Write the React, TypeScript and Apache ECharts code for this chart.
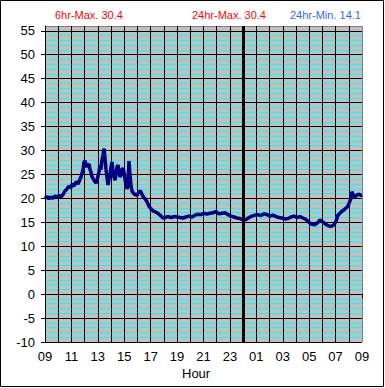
import React, { useEffect, useRef } from "react";
import * as echarts from "echarts";

// hours elapsed since 09:00 (day 1) and temperature readings
const HOURS = [
  0, 0.15, 0.3, 0.45, 0.61, 0.76, 0.91, 1.06, 1.21, 1.36, 1.51, 1.67, 1.82, 1.97, 2.04, 2.2, 2.35, 2.5, 2.65, 2.73,
  2.88, 2.95, 3.03, 3.1, 3.18, 3.26, 3.33, 3.41, 3.48, 3.56, 3.71, 3.86, 3.94, 4.09, 4.16, 4.24, 4.31, 4.39, 4.47, 4.54,
  4.62, 4.69, 4.77, 4.84, 4.92, 5.0, 5.07, 5.15, 5.22, 5.3, 5.37, 5.45, 5.53, 5.6, 5.68, 5.75, 5.83, 5.9, 5.98, 6.06,
  6.13, 6.21, 6.28, 6.36, 6.43, 6.51, 6.59, 6.66, 6.81, 6.96, 7.04, 7.19, 7.27, 7.42, 7.57, 7.72, 7.87, 8.02, 8.18, 8.33,
  8.48, 8.63, 8.78, 8.93, 9.08, 9.31, 9.54, 9.77, 9.99, 10.22, 10.45, 10.67, 10.9, 11.13, 11.36, 11.58, 11.81, 12.04, 12.26, 12.49,
  12.72, 12.94, 13.17, 13.4, 13.63, 13.85, 14.08, 14.31, 14.53, 14.76, 14.99, 15.22, 15.44, 15.67, 15.9, 16.12, 16.35, 16.58, 16.81, 17.03,
  17.26, 17.49, 17.71, 17.94, 18.17, 18.4, 18.62, 18.85, 19.08, 19.3, 19.53, 19.76, 19.98, 20.21, 20.44, 20.67, 20.82, 20.97, 21.2, 21.42,
  21.65, 21.88, 22.03, 22.18, 22.33, 22.48, 22.63, 22.79, 22.94, 23.09, 23.16, 23.24, 23.32, 23.47, 23.62, 23.77, 23.92, 24.0,
];
const TEMPS = [
  20.0, 20.4, 19.9, 20.3, 20.0, 20.5, 20.2, 20.6, 20.3, 20.8, 21.5, 22.0, 22.6, 22.2, 23.0, 22.6, 23.5, 23.0, 24.0, 24.5,
  26.0, 27.5, 27.9, 26.5, 27.3, 26.8, 27.2, 26.0, 25.5, 24.5, 23.8, 23.2, 23.8, 25.5, 27.0, 26.0, 28.0, 29.0, 30.4, 28.5,
  26.0, 24.5, 22.8, 24.0, 25.0, 26.5, 27.6, 25.5, 24.5, 23.8, 25.0, 26.5, 27.0, 25.5, 24.5, 24.8, 26.0, 26.3, 25.5, 24.0,
  22.8, 22.0, 22.5, 27.8, 25.0, 22.8, 21.5, 21.2, 20.8, 20.6, 21.0, 21.6, 21.3, 20.4, 19.9, 19.3, 18.4, 17.8, 17.4, 17.2,
  17.0, 16.7, 16.3, 15.9, 16.0, 16.2, 16.0, 16.2, 16.1, 16.0, 15.9, 16.1, 16.3, 16.1, 16.5, 16.7, 16.6, 16.9, 16.7, 16.9,
  17.0, 17.2, 16.8, 16.9, 17.0, 16.6, 16.3, 16.1, 15.9, 15.8, 15.5, 15.6, 16.0, 16.3, 16.5, 16.6, 16.4, 16.8, 16.6, 16.3,
  16.5, 16.2, 16.0, 15.9, 15.7, 15.8, 16.1, 16.3, 16.0, 16.2, 15.9, 15.6, 15.0, 14.6, 14.5, 15.0, 15.5, 15.2, 14.7, 14.3,
  14.1, 14.5, 15.2, 16.5, 16.9, 17.3, 17.6, 18.0, 18.4, 19.5, 20.0, 21.4, 20.8, 20.3, 20.7, 20.9, 20.6, 20.7,
];

const MAX_6HR = 30.4;
const MAX_24HR = 30.4;
const MIN_24HR = 14.1;

const START_HOUR = 9;
const MIDNIGHT = 15; // hours after start
const X_MIN = 0;
const X_MAX = 24;
const X_INTERVAL = 2;
const Y_MIN = -10;
const Y_MAX = 56;
const Y_INTERVAL = 5;
const Y_LABELS = [-10, -5, 0, 5, 10, 15, 20, 25, 30, 35, 40, 45, 50, 55];

const GRAY = "#C0C0C0";
const CYAN = "#00FFFF";
const EDGE = "#808080";
const FONT = "Liberation Sans, Arial, sans-serif";

export default function App() {
  const ref = useRef<HTMLDivElement>(null);

  useEffect(() => {
    if (!ref.current) return;
    const chart = echarts.init(ref.current, undefined, { renderer: "svg" });

    // secondary y axis: one split line per unit, black at labelled values, cyan between, gray at top edge
    const yLineColors: string[] = [];
    for (let v = Y_MIN; v <= Y_MAX; v++) {
      if (v === Y_MAX) yLineColors.push(EDGE);
      else if (Y_LABELS.includes(v)) yLineColors.push("#000000");
      else yLineColors.push(CYAN);
    }
    const xLineColors: string[] = [];
    for (let v = X_MIN; v <= X_MAX; v += X_INTERVAL) xLineColors.push(v === X_MAX ? EDGE : "#000000");

    const pad = (n: number) => (n < 10 ? "0" + n : String(n));

    chart.setOption({
      animation: false,
      backgroundColor: "#FFFFFF",
      grid: {
        left: 45,
        top: 26,
        width: 317,
        height: 316,
        show: true,
        backgroundColor: GRAY,
        borderWidth: 0,
      },
      xAxis: {
        type: "value",
        min: X_MIN,
        max: X_MAX,
        interval: X_INTERVAL,
        z: 1,
        axisLine: { show: true, lineStyle: { color: "#000", width: 1 } },
        axisTick: { show: true, length: 4, lineStyle: { color: "#000" } },
        axisLabel: {
          color: "#000",
          fontFamily: FONT,
          fontSize: 13,
          margin: 8,
          formatter: (v: number) => pad((START_HOUR + v) % 24),
        },
        splitLine: { show: true, lineStyle: { color: xLineColors, width: 1 } },
        minorTick: { show: false, splitNumber: 2 },
        minorSplitLine: { show: true, lineStyle: { color: "#000", width: 1 } },
      },
      yAxis: [
        {
          type: "value",
          min: Y_MIN,
          max: Y_MAX,
          interval: Y_INTERVAL,
          z: 2,
          axisLine: { show: true, onZero: false, lineStyle: { color: "#000", width: 1 } },
          axisTick: { show: true, length: 4, lineStyle: { color: "#000" }, customValues: Y_LABELS },
          axisLabel: {
            color: "#000",
            fontFamily: FONT,
            fontSize: 13,
            margin: 10,
            customValues: Y_LABELS,
          },
          splitLine: { show: false },
        },
        {
          type: "value",
          min: Y_MIN,
          max: Y_MAX,
          interval: 1,
          position: "left",
          z: 0,
          axisLine: { show: false },
          axisTick: { show: false },
          axisLabel: { show: false },
          splitLine: { show: true, lineStyle: { color: yLineColors, width: 1 } },
        },
      ],
      graphic: [
        {
          type: "rect",
          shape: { x: 0.5, y: 0.5, width: 383, height: 386 },
          style: { fill: "none", stroke: "#000", lineWidth: 1 },
          silent: true,
          z: 100,
        },
        {
          type: "text",
          left: 55,
          top: 9,
          style: { text: `6hr-Max. ${MAX_6HR}`, fill: "#FF0000", font: `11px ${FONT}` },
        },
        {
          type: "text",
          left: 192,
          top: 9,
          style: { text: `24hr-Max. ${MAX_24HR}`, fill: "#FF0000", font: `11px ${FONT}` },
        },
        {
          type: "text",
          left: 290,
          top: 9,
          style: { text: `24hr-Min. ${MIN_24HR}`, fill: "#3366FF", font: `11px ${FONT}` },
        },
        {
          type: "text",
          left: 182,
          top: 367,
          style: { text: "Hour", fill: "#000", font: `13px ${FONT}` },
        },
      ],
      series: [
        {
          type: "line",
          yAxisIndex: 0,
          data: HOURS.map((h, i) => [h, TEMPS[i]]),
          showSymbol: false,
          lineStyle: { color: "#000080", width: 3.5 },
          itemStyle: { color: "#000080" },
          z: 3,
          markLine: {
            silent: true,
            symbol: "none",
            label: { show: false },
            lineStyle: { color: "#000", width: 3, type: "solid" },
            data: [{ xAxis: MIDNIGHT }],
          },
        },
      ],
    });

    return () => chart.dispose();
  }, []);

  return (
    <div
      ref={ref}
      style={{ position: "fixed", left: 0, top: 0, width: 385, height: 388, background: "#fff" }}
    />
  );
}
